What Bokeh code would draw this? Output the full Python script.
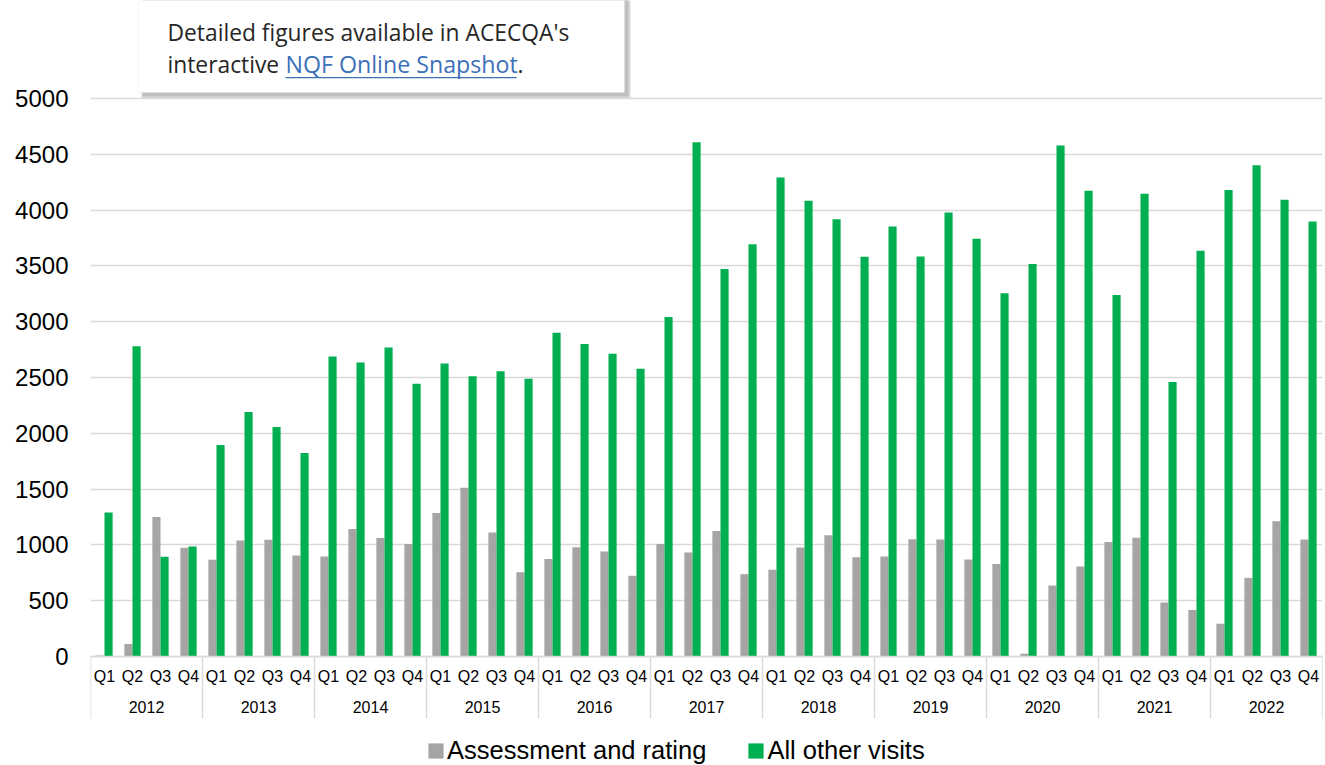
from bokeh.plotting import figure
from bokeh.models import (FactorRange, Range1d, FixedTicker, Legend, LegendItem,
                          ColumnDataSource, BoxAnnotation, Label, Span)
from bokeh.transform import dodge
from bokeh.core.properties import value
from bokeh.embed import file_html
from bokeh.resources import INLINE

# ---------------- data ----------------
years = ["2012", "2013", "2014", "2015", "2016", "2017",
         "2018", "2019", "2020", "2021", "2022"]
quarters = ["Q1", "Q2", "Q3", "Q4"]

assessment = [
    10, 113, 1250, 975,      # 2012
    866, 1040, 1046, 905,    # 2013
    896, 1143, 1062, 1009,   # 2014
    1285, 1512, 1112, 755,   # 2015
    873, 980, 940, 723,      # 2016
    1008, 931, 1124, 738,    # 2017
    777, 977, 1087, 889,     # 2018
    895, 1051, 1048, 869,    # 2019
    829, 25, 636, 806,       # 2020
    1027, 1063, 484, 417,    # 2021
    294, 705, 1213, 1048,    # 2022
]
other_visits = [
    1290, 2780, 893, 985,    # 2012
    1896, 2190, 2056, 1824,  # 2013
    2688, 2634, 2769, 2443,  # 2014
    2626, 2511, 2557, 2488,  # 2015
    2901, 2800, 2713, 2578,  # 2016
    3042, 4608, 3473, 3695,  # 2017
    4293, 4084, 3919, 3581,  # 2018
    3853, 3584, 3979, 3743,  # 2019
    3255, 3518, 4578, 4174,  # 2020
    3240, 4147, 2460, 3635,  # 2021
    4180, 4401, 4093, 3898,  # 2022
]
y_ticks = [0, 500, 1000, 1500, 2000, 2500, 3000, 3500, 4000, 4500, 5000]
series_names = ["Assessment and rating", "All other visits"]

# ---------------- layout constants ----------------
GRAY = "#A5A5A5"
GREEN = "#00B050"
GRID = "#D9D9D9"
FONT = "Liberation Sans"
FRAME_L, FRAME_T = 90, 0
FRAME_W, FRAME_H = 1232, 765
ZERO_Y = 656                      # page pixel row of the value 0
PX_PER_UNIT = 558.0 / 5000


def cy(py):
    """page pixel row -> value units"""
    return (ZERO_Y - py) / PX_PER_UNIT


factors = [(y, q) for y in years for q in quarters]
N = len(factors)


def cx(px):
    """page pixel column -> synthetic categorical coordinate"""
    return (px - FRAME_L) / FRAME_W * N


src = ColumnDataSource(dict(x=factors, assessment=assessment, other=other_visits))

p = figure(frame_width=FRAME_W, frame_height=FRAME_H,
           x_range=FactorRange(*factors, range_padding=0, group_padding=0, factor_padding=0),
           y_range=Range1d(cy(FRAME_T + FRAME_H), cy(FRAME_T)),
           output_backend="svg", toolbar_location=None,
           min_border_left=FRAME_L, min_border_right=3, min_border_top=0,
           min_border_bottom=0)
p.outline_line_color = None
p.background_fill_color = "white"

r1 = p.vbar(x=dodge("x", -0.145, range=p.x_range), top="assessment", width=0.29,
            source=src, fill_color=GRAY, line_color=None)
r2 = p.vbar(x=dodge("x", 0.145, range=p.x_range), top="other", width=0.29,
            source=src, fill_color=GREEN, line_color=None)

# y axis
p.yaxis.ticker = FixedTicker(ticks=y_ticks)
p.yaxis.axis_line_color = None
p.yaxis.major_tick_line_color = None
p.yaxis.minor_tick_line_color = None
p.yaxis.major_tick_out = 0
p.yaxis.major_label_standoff = 22
p.yaxis.major_label_text_font = FONT
p.yaxis.major_label_text_font_size = "24px"
p.yaxis.major_label_text_color = "black"
p.ygrid.grid_line_color = GRID
p.ygrid.grid_line_width = 1.5
p.xgrid.grid_line_color = None

# x axis drawn inside the frame: base line, quarter labels, year labels, separators
p.xaxis.visible = False
p.add_layout(Span(location=0, dimension="width", line_color=GRID, line_width=1.5))

p.text(x=factors, y=[cy(676)] * N, text=[q for _, q in factors],
       text_font=value(FONT), text_font_size=value("16px"), text_color="black",
       text_align="center", text_baseline="middle")
p.text(x=years, y=[cy(706)] * len(years), text=years,
       text_font=value(FONT), text_font_size=value("16px"), text_color="black",
       text_align="center", text_baseline="middle")
bounds = [i * len(quarters) for i in range(len(years) + 1)]
p.segment(x0=bounds, x1=bounds, y0=[0] * len(bounds), y1=[cy(718)] * len(bounds),
          line_color=GRID, line_width=1.5)

# legend inside the (tall) frame, at the bottom
legend = Legend(items=[LegendItem(label=series_names[0], renderers=[r1]),
                       LegendItem(label=series_names[1], renderers=[r2])],
                orientation="horizontal", location=(336, 0),
                label_text_font=FONT, label_text_font_size="25.5px",
                label_text_color="black",
                glyph_width=19, glyph_height=19, label_standoff=2, spacing=40,
                border_line_color=None, background_fill_alpha=0,
                padding=0, margin=0)
p.add_layout(legend, "center")

# ---------------- callout box ----------------
def box(l, r, t, b, **kw):
    p.add_layout(BoxAnnotation(left=cx(l), right=cx(r), top=cy(t), bottom=cy(b),
                               fill_alpha=1, **kw))

box(141, 630, -2, 98, fill_color="#D9D9D9", line_color=None)
box(142, 628, -2, 96, fill_color="#BFBFBF", line_color=None)
box(138, 624, -2, 92, fill_color="white", line_color="#E6E6E6", line_width=1)

CALLOUT_FONT = "Open Sans"
LABEL_SHIFT = 10  # Label draws its alphabetic baseline lower than its anchor


def label(x, y, text, color="#262626", size="22.8px"):
    p.add_layout(Label(x=cx(x), y=cy(y - LABEL_SHIFT), text=text,
                       text_font=CALLOUT_FONT, text_font_size=size, text_color=color,
                       text_align="left", text_baseline="alphabetic"))


label(167, 41.5, "Detailed figures available in ACECQA's")
label(167, 73.5, "interactive")
label(285, 73.5, "NQF Online Snapshot", color="#3C70B8", size="23.2px")
box(285, 516, 76.5, 77.8, fill_color="#3C70B8", line_color=None)
label(517, 73.5, ".")

open("out.html", "w").write(file_html(p, INLINE))
